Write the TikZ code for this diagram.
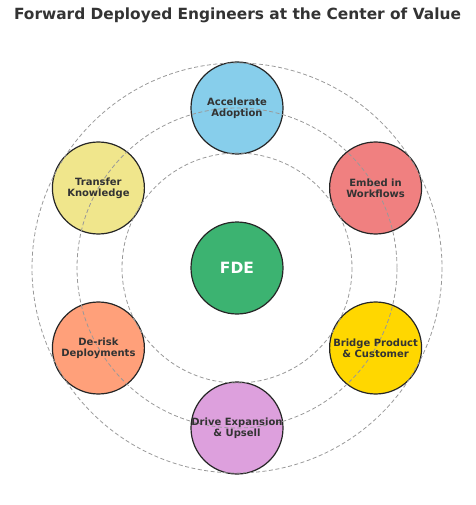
\documentclass[tikz,border=0pt]{standalone}
\usepackage{fontspec}
\setmainfont{DejaVu Sans}
\usetikzlibrary{calc}
\definecolor{skyblueC}{HTML}{87CEEB}
\definecolor{lcoralC}{HTML}{F08080}
\definecolor{goldC}{HTML}{FFD700}
\definecolor{plumC}{HTML}{DDA0DD}
\definecolor{lsalmonC}{HTML}{FFA07A}
\definecolor{khakiC}{HTML}{F0E68C}
\definecolor{seagreenC}{HTML}{3CB371}
\definecolor{txtC}{HTML}{333333}
\definecolor{ringC}{HTML}{999999}
\tikzset{
  bubble/.style={circle, draw=black!85, line width=1.2pt, minimum size=92pt, inner sep=0pt},
  lbl/.style={align=center, font=\bfseries\fontsize{10}{11}\selectfont, text=txtC},
  ring/.style={draw=ringC, line width=0.8pt, dash pattern=on 4pt off 2.5pt}
}
\begin{document}
\begin{tikzpicture}[x=1pt,y=-1pt]
\useasboundingbox (0,0) rectangle (475,505);
\node[font=\bfseries\fontsize{15.4}{18}\selectfont, text=txtC] (title) at (237.5,15.5) {Forward Deployed Engineers at the Center of Value};
\coordinate (c) at (237,268);
\node[bubble, fill=seagreenC] (fde) at (c) {};
\node[bubble, fill=skyblueC] (n1) at ($(c)+(0,-160)$) {};
\node[bubble, fill=lcoralC] (n2) at ($(c)+(138.6,-80)$) {};
\node[bubble, fill=goldC] (n3) at ($(c)+(138.6,80)$) {};
\node[bubble, fill=plumC] (n4) at ($(c)+(0,160)$) {};
\node[bubble, fill=lsalmonC] (n5) at ($(c)+(-138.6,80)$) {};
\node[bubble, fill=khakiC] (n6) at ($(c)+(-138.6,-80)$) {};
\draw[ring] (c) circle[radius=115];
\draw[ring] (c) circle[radius=160];
\draw[ring] (c) circle[radius=205];
\node[font=\bfseries\fontsize{15.5}{18}\selectfont, text=white] (fdet) at (fde.center) {FDE};
\node[lbl] (t1) at (n1.center) {Accelerate\\Adoption};
\node[lbl] (t2) at (n2.center) {Embed in\\Workflows};
\node[lbl] (t3) at (n3.center) {Bridge Product\\\& Customer};
\node[lbl] (t4) at (n4.center) {Drive Expansion\\\& Upsell};
\node[lbl] (t5) at (n5.center) {De-risk\\Deployments};
\node[lbl] (t6) at (n6.center) {Transfer\\Knowledge};
\end{tikzpicture}
\end{document}
